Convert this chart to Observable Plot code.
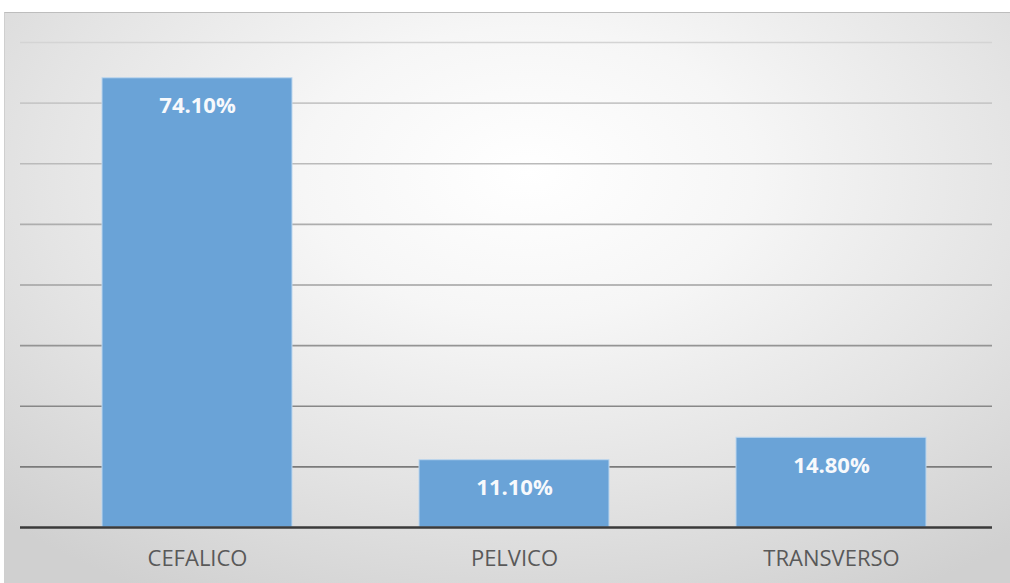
<!DOCTYPE html>
<html>
<head>
<meta charset="utf-8">
<script src="https://cdn.jsdelivr.net/npm/d3@7"></script>
<script src="https://cdn.jsdelivr.net/npm/@observablehq/plot@0.6"></script>
<style>
  html, body { margin: 0; padding: 0; background: #ffffff; }
  #wrap { position: relative; width: 1010px; height: 583px; overflow: hidden; }
  #bg {
    position: absolute; left: 4px; top: 12px; width: 1006px; height: 571px;
    border-top: 1px solid #bdbdbd; border-left: 1px solid #cfcfcf; box-sizing: border-box;
    background: radial-gradient(ellipse 75% 85% at 52% 28%, #ffffff 0%, #f6f6f6 30%, #e4e4e4 65%, #d0d0d0 100%);
  }
  #chart { position: absolute; left: 0; top: 0; }
</style>
</head>
<body>
<div id="wrap"><div id="bg"></div><div id="chart"></div></div>
<script>
const categories = ["CEFALICO", "PELVICO", "TRANSVERSO"];
const values = [74.1, 11.1, 14.8];
const labels = ["74.10%", "11.10%", "14.80%"];
const gridTicks = [10, 20, 30, 40, 50, 60, 70, 80];

const data = categories.map((c, i) => ({category: c, value: values[i], label: labels[i]}));

const plot = Plot.plot({
  width: 1010,
  height: 583,
  marginLeft: 20,
  marginRight: 18,
  marginTop: 42,
  marginBottom: 56,
  style: {background: "transparent", fontFamily: "'Open Sans', sans-serif"},
  x: {domain: categories, paddingInner: 0.4, paddingOuter: 0.2, insetLeft: 18, insetRight: 2, label: null},
  y: {domain: [0, 80], label: null},
  marks: [
    Plot.ruleY(gridTicks, {stroke: "url(#gridGrad)", strokeWidth: 1.6}),
    Plot.barY(data, {x: "category", y: "value", fill: "#6aa3d7", stroke: "#bcd6ee", strokeWidth: 1}),
    Plot.ruleY([0], {stroke: "#3a3a3a", strokeWidth: 2.5}),
    Plot.text(data, {x: "category", y: "value", text: "label", dy: 28, fill: "#f7f9fc", fontWeight: "bold", fontSize: 22}),
    Plot.axisX({tickSize: 0, tickPadding: 23, fontSize: 22, color: "#595959", label: null}),
    Plot.axisY({ticks: [], label: null})
  ]
});

const ns = "http://www.w3.org/2000/svg";
const defs = document.createElementNS(ns, "defs");
const grad = document.createElementNS(ns, "linearGradient");
grad.setAttribute("id", "gridGrad");
grad.setAttribute("gradientUnits", "userSpaceOnUse");
grad.setAttribute("x1", "0"); grad.setAttribute("x2", "0");
grad.setAttribute("y1", "42"); grad.setAttribute("y2", "470");
[["0%", "#d4d4d4"], ["100%", "#7a7a7a"]].forEach(([o, c]) => {
  const s = document.createElementNS(ns, "stop");
  s.setAttribute("offset", o); s.setAttribute("stop-color", c);
  grad.appendChild(s);
});
defs.appendChild(grad);
plot.insertBefore(defs, plot.firstChild);
document.getElementById("chart").appendChild(plot);
</script>
</body>
</html>
